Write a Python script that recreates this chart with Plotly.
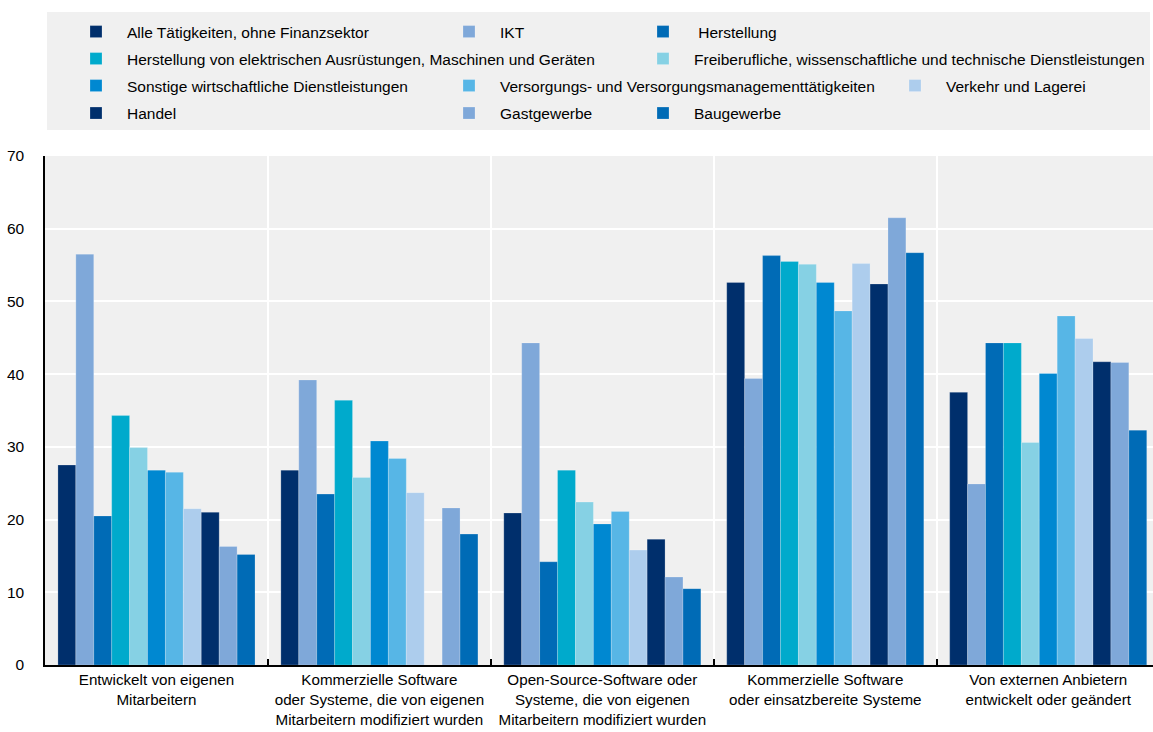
import plotly.graph_objects as go

categories = [
    "Entwickelt von eigenen<br>Mitarbeitern",
    "Kommerzielle Software<br>oder Systeme, die von eigenen<br>Mitarbeitern modifiziert wurden",
    "Open-Source-Software oder<br>Systeme, die von eigenen<br>Mitarbeitern modifiziert wurden",
    "Kommerzielle Software<br>oder einsatzbereite Systeme",
    "Von externen Anbietern<br>entwickelt oder geändert",
]

series_names = [
    "Alle Tätigkeiten, ohne Finanzsektor",
    "IKT",
    " Herstellung",
    "Herstellung von elektrischen Ausrüstungen, Maschinen und Geräten",
    "Freiberufliche, wissenschaftliche und technische Dienstleistungen",
    "Sonstige wirtschaftliche Dienstleistungen",
    "Versorgungs- und Versorgungsmanagementtätigkeiten",
    "Verkehr und Lagerei",
    "Handel",
    "Gastgewerbe",
    "Baugewerbe",
]

alle = [27.5, 26.8, 20.9, 52.6, 37.5]
ikt = [56.5, 39.2, 44.3, 39.4, 24.9]
herstellung = [20.5, 23.5, 14.2, 56.3, 44.3]
elektr = [34.3, 36.4, 26.8, 55.5, 44.3]
freiberuf = [29.9, 25.8, 22.4, 55.1, 30.6]
sonstige = [26.8, 30.8, 19.4, 52.6, 40.1]
versorgung = [26.5, 28.4, 21.1, 48.7, 48.0]
verkehr = [21.5, 23.7, 15.8, 55.2, 44.9]
handel = [21.0, None, 17.3, 52.4, 41.7]
gastgewerbe = [16.3, 21.6, 12.1, 61.5, 41.6]
baugewerbe = [15.2, 18.0, 10.5, 56.7, 32.3]

series_values = [alle, ikt, herstellung, elektr, freiberuf, sonstige,
                 versorgung, verkehr, handel, gastgewerbe, baugewerbe]

colors = ["#002F6C", "#7FA8D9", "#006BB6", "#00AACC", "#86D1E4", "#0088D1",
          "#57B6E6", "#ADCDED", "#002F6C", "#7FA8D9", "#006BB6"]

# legend placement: (text start x, row centre y) in page pixels
legend_px = [(127, 32), (500, 32), (694, 32),
             (127, 59), (694, 59),
             (127, 86), (500, 86), (946, 86),
             (127, 113.5), (500, 113.5), (694, 113.5)]

W, H = 1153, 732
ML, MR, MT, MB = 45, 0, 156, 67
PW, PH = W - ML - MR, H - MT - MB
ITEMW = 52

FONT = "Liberation Sans, Arial, sans-serif"

fig = go.Figure()
layout_legends = {}
for i, (name, vals, col) in enumerate(zip(series_names, series_values, colors)):
    lname = "legend" if i == 0 else f"legend{i + 1}"
    fig.add_trace(go.Bar(
        x=categories, y=vals, name=name,
        marker=dict(color=col, line=dict(color="rgba(255,255,255,0.35)", width=0.6)),
        legend=lname,
    ))
    px, py = legend_px[i]
    layout_legends[lname] = dict(
        x=(px - (ITEMW + 10) - ML) / PW, y=(H - MB - py) / PH,
        xanchor="left", yanchor="middle",
        bgcolor="rgba(0,0,0,0)", borderwidth=0,
        itemwidth=ITEMW,
        font=dict(family=FONT, size=15.5, color="#000"),
    )

fig.update_layout(**layout_legends)

fig.add_shape(type="rect", xref="paper", yref="paper",
              x0=(47 - ML) / PW, x1=(1150 - ML) / PW,
              y0=(H - MB - 130) / PH, y1=(H - MB - 12) / PH,
              fillcolor="#F0F0F0", line=dict(width=0), layer="below")

fig.update_layout(
    width=W, height=H,
    margin=dict(l=ML, r=MR, t=MT, b=MB),
    paper_bgcolor="white",
    plot_bgcolor="#F0F0F0",
    barmode="group",
    bargap=0.116,
    bargroupgap=0,
    showlegend=True,
    font=dict(family=FONT, size=15.2, color="#000"),
    xaxis=dict(
        type="category",
        range=[-0.5, 4.47],
        tickson="boundaries",
        ticks="inside", ticklen=6, tickcolor="#000", tickwidth=1.5,
        showgrid=True, gridcolor="white", gridwidth=1.5,
        showline=True, linecolor="#000", linewidth=2,
        tickfont=dict(family=FONT, size=15.2, color="#000"),
        zeroline=False,
    ),
    yaxis=dict(
        range=[0, 70], dtick=10, tick0=0,
        ticks="",
        ticklabelstandoff=16,
        showgrid=True, gridcolor="white", gridwidth=2,
        showline=True, linecolor="#000", linewidth=1.5,
        tickfont=dict(family=FONT, size=15.5, color="#000"),
        zeroline=False,
    ),
)

fig.write_html("out.html",
               config={"displayModeBar": False},
               post_script="document.body.style.margin='0px';document.body.style.overflow='hidden';")
